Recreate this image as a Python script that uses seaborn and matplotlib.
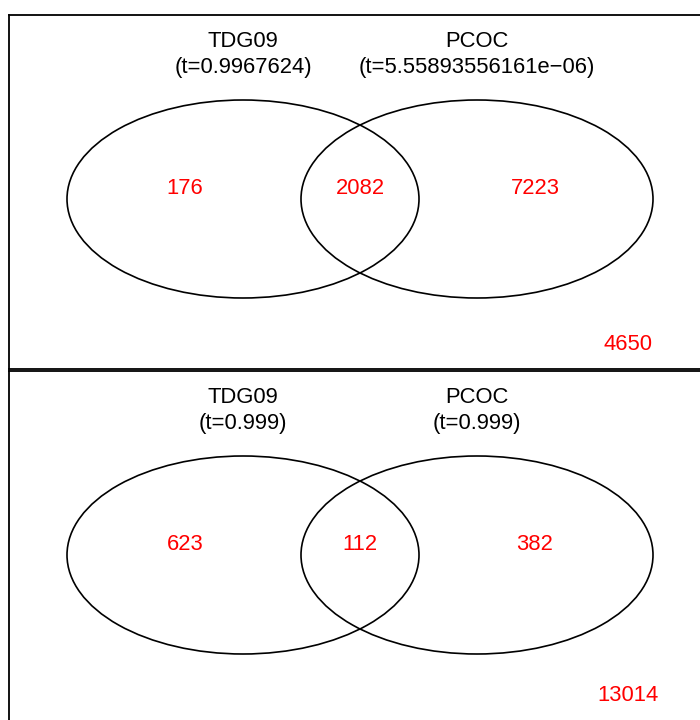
import numpy as np
import pandas as pd
import matplotlib
matplotlib.use("Agg")
import matplotlib.pyplot as plt
from matplotlib.patches import Ellipse
import seaborn as sns

sns.set_theme(style="white")
plt.rcParams['font.family'] = ['Liberation Sans', 'DejaVu Sans']

# ---- data ----
set_names = ["TDG09", "PCOC"]
thresholds_top = ["0.9967624", "5.55893556161e\u221206"]
thresholds_bottom = ["0.999", "0.999"]
counts_top = [176, 2082, 7223]      # only A, both, only B
outside_top = 4650
counts_bottom = [623, 112, 382]
outside_bottom = 13014

panels = [
    (thresholds_top, counts_top, outside_top),
    (thresholds_bottom, counts_bottom, outside_bottom),
]

W, H = 700, 720
fig = plt.figure(figsize=(7, 7.2), dpi=100)

# panel boxes in pixel coordinates (top, bottom)
boxes = [(15, 369), (371, 725)]
left_px, right_px = 9, 712
FS = 15.8

for (top, bot), (thr, cnt, outside) in zip(boxes, panels):
    ax = fig.add_axes([left_px / W, 1 - bot / H, (right_px - left_px) / W, (bot - top) / H])
    ax.set_xlim(0, right_px - left_px)
    ax.set_ylim(bot - top, 0)
    ax.set_xticks([]); ax.set_yticks([])
    for s in ax.spines.values():
        s.set_visible(True)
        s.set_color("black")
        s.set_linewidth(1.3)
    ax.set_facecolor("white")

    cy = 184  # ellipse center relative to panel top
    cxs = [243 - left_px, 477 - left_px]
    for cx in cxs:
        ax.add_patch(Ellipse((cx, cy), 352, 198, fill=False, edgecolor="black", lw=1.2))

    for cx, name, t in zip(cxs, set_names, thr):
        ax.text(cx, 26.5, name, ha="center", va="center", fontsize=FS, color="black")
        ax.text(cx, 52.5, f"(t={t})", ha="center", va="center", fontsize=FS, color="black")

    xs = [185 - left_px, 360 - left_px, 535 - left_px]
    for x, c in zip(xs, cnt):
        ax.text(x, 173.5, str(c), ha="center", va="center", fontsize=FS, color="red")
    ax.text(628 - left_px, 329.5 if top == 15 else 324.5, str(outside), ha="center", va="center",
            fontsize=FS, color="red")

fig.savefig("out.png", dpi=100, facecolor="white")
